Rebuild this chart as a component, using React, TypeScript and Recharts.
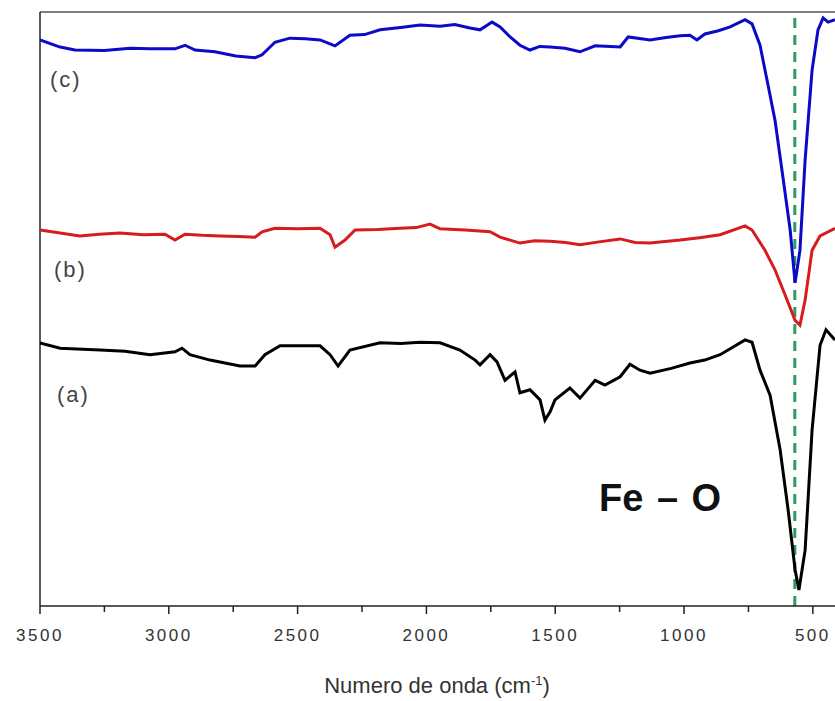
import { LineChart, Line, XAxis, YAxis, ReferenceLine } from "recharts"

// wavenumber (cm-1) and transmittance (a.u.)
const sampleC = [
  [3500, 95.3], [3422, 94.1], [3364, 93.6], [3250, 93.5], [3150, 93.9], [3073, 93.8], [2976, 93.8],
  [2937, 94.4], [2898, 93.6], [2821, 93.3], [2740, 92.6], [2665, 92.3], [2638, 92.8], [2588, 94.9],
  [2530, 95.6], [2470, 95.5], [2413, 95.3], [2355, 94.3], [2297, 96.1], [2240, 96.2], [2180, 97.0],
  [2100, 97.4], [2025, 97.8], [1947, 97.6], [1890, 97.9], [1831, 97.3], [1792, 97.0], [1745, 98.3],
  [1714, 97.5], [1675, 95.8], [1637, 94.4], [1598, 93.6], [1560, 94.2], [1520, 94.1], [1462, 93.9],
  [1404, 93.3], [1345, 94.3], [1248, 94.1], [1217, 95.8], [1132, 95.3], [1070, 95.7], [1015, 96.0],
  [977, 96.1], [950, 95.3], [919, 96.3], [870, 96.8], [821, 97.5], [763, 98.7], [736, 98.0],
  [705, 94.4], [674, 87.7], [647, 81.8], [620, 73.4], [588, 63.3], [569, 54.4], [550, 59.9],
  [530, 75.1], [503, 90.2], [480, 97.0], [460, 99.0], [441, 98.3], [414, 98.7],
]

const sampleB = [
  [3500, 63.3], [3422, 62.8], [3345, 62.3], [3270, 62.6], [3189, 62.8], [3100, 62.5], [3015, 62.6],
  [2976, 61.6], [2937, 62.6], [2870, 62.4], [2801, 62.3], [2730, 62.2], [2665, 62.1], [2638, 63.0],
  [2588, 63.6], [2500, 63.5], [2413, 63.6], [2374, 62.5], [2355, 60.4], [2316, 61.6], [2277, 63.3],
  [2190, 63.4], [2102, 63.6], [2040, 63.7], [1986, 64.3], [1947, 63.5], [1850, 63.3], [1753, 63.0],
  [1714, 62.1], [1637, 61.1], [1580, 61.5], [1520, 61.4], [1460, 61.2], [1404, 60.8], [1330, 61.3],
  [1248, 61.8], [1190, 61.2], [1132, 61.1], [1015, 61.6], [940, 62.0], [860, 62.5], [763, 64.0],
  [736, 63.3], [686, 59.9], [647, 56.6], [608, 52.4], [569, 48.1], [550, 47.3], [530, 51.5],
  [503, 59.9], [472, 62.3], [414, 63.6],
]

const sampleA = [
  [3500, 44.3], [3422, 43.4], [3267, 43.1], [3170, 42.9], [3073, 42.3], [2976, 42.8], [2949, 43.4],
  [2918, 42.3], [2840, 41.4], [2724, 40.4], [2665, 40.4], [2627, 42.3], [2568, 43.8], [2413, 43.8],
  [2374, 42.3], [2343, 40.4], [2297, 43.1], [2180, 44.3], [2100, 44.2], [2025, 44.4], [1947, 44.3],
  [1870, 43.1], [1811, 41.4], [1792, 40.6], [1753, 42.3], [1726, 41.1], [1695, 38.0], [1656, 39.4],
  [1637, 35.9], [1598, 36.4], [1559, 34.7], [1540, 31.3], [1520, 32.7], [1501, 34.7], [1443, 36.7],
  [1404, 35.0], [1345, 38.0], [1307, 37.2], [1248, 38.6], [1210, 40.7], [1171, 39.7], [1132, 39.2],
  [1050, 40.0], [977, 40.9], [920, 41.4], [860, 42.3], [763, 44.8], [736, 44.4], [705, 39.7],
  [680, 37.0], [666, 35.5], [627, 26.3], [596, 16.2], [569, 6.1], [554, 2.7], [530, 9.4],
  [503, 29.6], [472, 43.9], [449, 46.5], [414, 44.8],
]

const xTicks = [3500, 3250, 3000, 2750, 2500, 2250, 2000, 1750, 1500, 1250, 1000, 750, 500]
const feOBand = 570

const toRows = (pts: number[][]) => pts.map(([wn, t]) => ({ wn, t }))

const FONT = "'Liberation Sans', Arial, sans-serif"

function AxisTick({ x, y, payload }: any) {
  const major = payload.value % 500 === 0
  return (
    <g>
      <line x1={x} x2={x} y1={y} y2={y + (major ? 8 : 6)} stroke="#222" strokeWidth={1.5} />
      {major && (
        <text x={x} y={y + 35} textAnchor="middle" fontSize={17} letterSpacing={2.5} fill="#333" fontFamily={FONT}>
          {payload.value}
        </text>
      )}
    </g>
  )
}

export default function App() {
  return (
    <div style={{ position: "fixed", left: 0, top: 0, width: 835, height: 701, background: "#fff", overflow: "hidden" }}>
      <LineChart width={835} height={701} margin={{ top: 12, right: 0, left: 40, bottom: 0 }}>
        <XAxis
          type="number"
          dataKey="wn"
          domain={[414, 3500]}
          reversed
          allowDataOverflow
          ticks={xTicks}
          interval={0}
          tickSize={0}
          tickMargin={0}
          tick={<AxisTick />}
          height={95}
          stroke="#222"
          strokeWidth={1.5}
        />
        <YAxis type="number" domain={[0, 100]} hide allowDataOverflow />
        <ReferenceLine y={100} stroke="#555" strokeWidth={1.5} />
        <ReferenceLine x={3500} stroke="#222" strokeWidth={1.5} />
        <ReferenceLine x={feOBand} stroke="#2e9b62" strokeWidth={3} strokeDasharray="10 7" />
        <Line data={toRows(sampleC)} dataKey="t" stroke="#0a0ac8" strokeWidth={3} dot={false} isAnimationActive={false} />
        <Line data={toRows(sampleB)} dataKey="t" stroke="#d61c1c" strokeWidth={3} dot={false} isAnimationActive={false} />
        <Line data={toRows(sampleA)} dataKey="t" stroke="#000" strokeWidth={3} dot={false} isAnimationActive={false} />
      </LineChart>
      <div style={{ position: "absolute", left: 50, top: 67, fontSize: 22, letterSpacing: 2, color: "#444", fontFamily: FONT }}>(c)</div>
      <div style={{ position: "absolute", left: 54, top: 257, fontSize: 22, letterSpacing: 2, color: "#444", fontFamily: FONT }}>(b)</div>
      <div style={{ position: "absolute", left: 57, top: 382, fontSize: 22, letterSpacing: 2, color: "#444", fontFamily: FONT }}>(a)</div>
      <div style={{ position: "absolute", left: 599, top: 477, fontSize: 38, wordSpacing: 3, fontWeight: "bold", color: "#111", fontFamily: FONT, whiteSpace: "pre" }}>
        Fe – O
      </div>
      <div style={{ position: "absolute", left: 0, width: 874, top: 673, textAlign: "center", fontSize: 22, color: "#333", fontFamily: FONT }}>
        Numero de onda (cm<sup style={{ fontSize: 13 }}>-1</sup>)
      </div>
    </div>
  )
}
